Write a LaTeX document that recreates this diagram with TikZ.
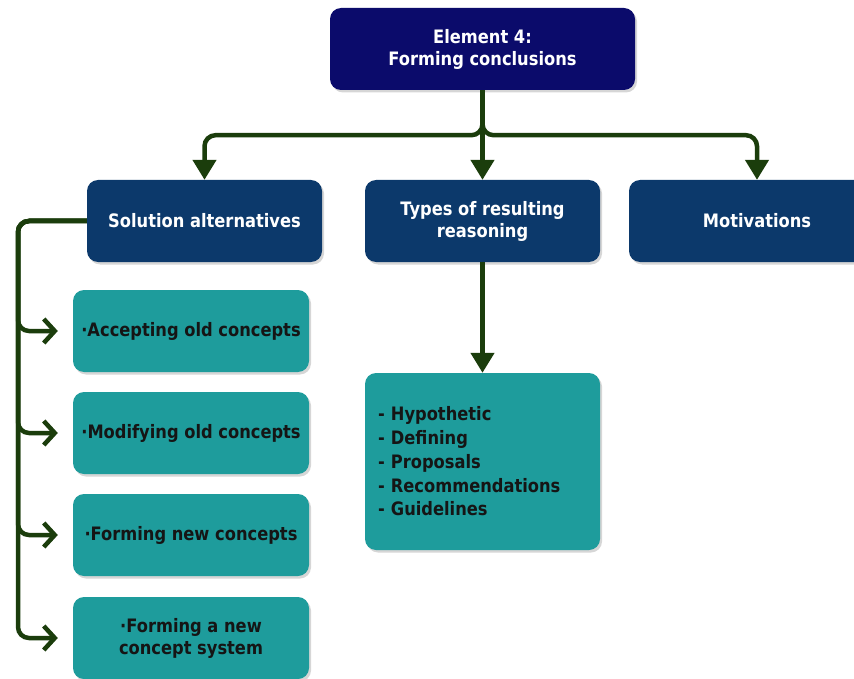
\documentclass[tikz,border=0pt]{standalone}
\usepackage{fontspec}
\setmainfont[FakeStretch=0.88]{DejaVu Sans}
\usetikzlibrary{arrows.meta,shadows,positioning}

\definecolor{navytop}{HTML}{0B0B6B}
\definecolor{bluebox}{HTML}{0C396B}
\definecolor{tealbox}{HTML}{1E9C9C}
\definecolor{linkgreen}{HTML}{1B3D0C}
\definecolor{darktext}{HTML}{151515}

\tikzset{
  boxbase/.style={rectangle, rounded corners=11pt, draw=none,
    font=\fontsize{18.5}{22}\selectfont\bfseries, align=center,
    drop shadow={shadow xshift=2pt, shadow yshift=-2.5pt, fill=black!45, opacity=0.35}},
  topbox/.style={boxbase, fill=navytop, text=white, minimum width=305pt, minimum height=82pt},
  levelbox/.style={boxbase, fill=bluebox, text=white, minimum height=82pt},
  tealnode/.style={boxbase, fill=tealbox, text=darktext, minimum width=236pt, minimum height=82pt},
  conn/.style={draw=linkgreen, line width=4.5pt, rounded corners=11pt},
  tipfilled/.style={-{Triangle[length=20pt,width=23pt]}},
  tipopen/.style={-{Straight Barb[length=11pt,width=24pt,line width=4.5pt]}}
}

\begin{document}
\begin{tikzpicture}[x=1pt,y=-1pt]
  \clip (0,0) rectangle (854,679);
  \fill[white] (0,0) rectangle (854,679);

  % main element and its three branches
  \node[topbox] (top) at (482.5,49) {Element 4:\\Forming conclusions};
  \node[levelbox, minimum width=235pt] (sol) at (204.5,221) {Solution alternatives};
  \node[levelbox, minimum width=235pt] (types) at (482.5,221) {Types of resulting\\reasoning};
  \node[levelbox, minimum width=256pt] (motiv) at (757,221) {Motivations};

  % solution alternatives
  \node[tealnode] (acc) at (191,331) {·Accepting old concepts};
  \node[tealnode] (mod) at (191,433) {·Modifying old concepts};
  \node[tealnode] (newc) at (191,535) {·Forming new concepts};
  \node[tealnode] (sys) at (191,638) {·Forming a new\\concept system};

  % types of resulting reasoning
  \node[tealnode, minimum width=235pt, minimum height=177pt, text width=209pt,
        align=left, inner xsep=13pt, font=\fontsize{18.5}{23.7}\selectfont\bfseries]
        (list) at (482.5,461.5)
        {- Hypothetic\\- Defining\\- Proposals\\- Recommendations\\- Guidelines};

  % connectors from the main element
  \draw[conn, tipfilled] (top.south) -- ++(0,45) -| (sol.north);
  \draw[conn, tipfilled] (top.south) -- ++(0,45) -| (motiv.north);
  \draw[conn, tipfilled] (top.south) -- (types.north);

  % connectors to the solution alternatives
  \coordinate (rail) at (18,0);
  \foreach \b in {acc,mod,newc,sys}{
    \draw[conn, tipopen] (sol.west) -- (rail |- sol.west) |- ([xshift=-15pt]\b.west);
  }

  % connector to the reasoning types
  \draw[conn, tipfilled] (types.south) -- (list.north);
\end{tikzpicture}
\end{document}
